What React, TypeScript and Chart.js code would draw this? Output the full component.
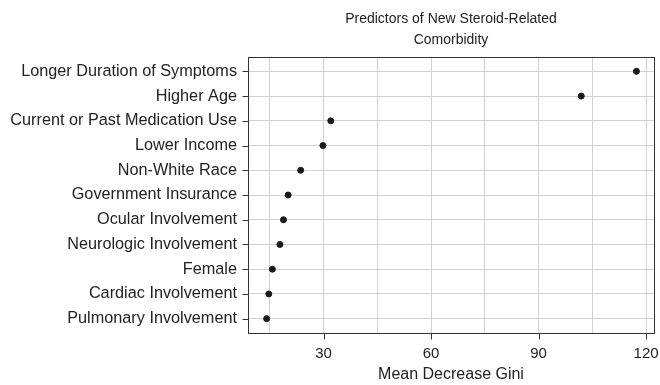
import React, { useEffect, useRef } from 'react';
import { Chart, registerables } from 'chart.js';

Chart.register(...registerables);

const predictors = [
  'Longer Duration of Symptoms',
  'Higher Age',
  'Current or Past Medication Use',
  'Lower Income',
  'Non-White Race',
  'Government Insurance',
  'Ocular Involvement',
  'Neurologic Involvement',
  'Female',
  'Cardiac Involvement',
  'Pulmonary Involvement',
];
const meanDecreaseGini = [117.3, 101.9, 32.0, 29.8, 23.6, 20.1, 18.8, 17.8, 15.7, 14.7, 14.1];
const xGridValues = [15, 30, 45, 60, 75, 90, 105, 120];
const xLabelValues = [30, 60, 90, 120];
const titleLines = ['Predictors of New Steroid-Related', 'Comorbidity'];
const xAxisTitle = 'Mean Decrease Gini';

const FONT = '"Liberation Sans", Arial, Helvetica, sans-serif';
const TICK_LEN = 6;

const framePlugin = {
  id: 'frameAndTitle',
  afterDraw(chart: any) {
    const { ctx, chartArea, scales } = chart;
    const { left, right, top, bottom } = chartArea;
    ctx.save();
    ctx.strokeStyle = '#333333';
    ctx.lineWidth = 1;
    const L = Math.round(left) + 0.5;
    const T = Math.round(top) + 0.5;
    const R = Math.round(right) + 0.5;
    const B = Math.round(bottom) + 0.5;
    ctx.strokeRect(L, T, R - L, B - T);
    // tick marks
    ctx.beginPath();
    predictors.forEach((_, i) => {
      const y = Math.round(scales.y.getPixelForValue(i)) + 0.5;
      ctx.moveTo(L - TICK_LEN, y);
      ctx.lineTo(L, y);
    });
    xLabelValues.forEach((v) => {
      const x = Math.round(scales.x.getPixelForValue(v)) + 0.5;
      ctx.moveTo(x, B);
      ctx.lineTo(x, B + TICK_LEN);
    });
    ctx.stroke();
    // title
    ctx.fillStyle = '#222222';
    ctx.font = `14px ${FONT}`;
    ctx.textAlign = 'center';
    ctx.textBaseline = 'middle';
    const cx = (left + right) / 2;
    titleLines.forEach((line, i) => {
      ctx.fillText(line, cx, 19 + i * 21.5);
    });
    ctx.restore();
  },
};

export default function App() {
  const canvasRef = useRef<HTMLCanvasElement | null>(null);

  useEffect(() => {
    if (!canvasRef.current) return;
    const chart = new Chart(canvasRef.current, {
      type: 'scatter',
      data: {
        datasets: [
          {
            data: meanDecreaseGini.map((v, i) => ({ x: v, y: i })),
            backgroundColor: '#1a1a1a',
            borderColor: '#1a1a1a',
            pointRadius: 3,
            pointHoverRadius: 3,
          },
        ],
      },
      options: {
        responsive: false,
        animation: false,
        layout: { padding: { top: 57, right: 6, left: 0, bottom: 0 } },
        plugins: {
          legend: { display: false },
          tooltip: { enabled: false },
          title: { display: false },
        },
        scales: {
          x: {
            type: 'linear',
            min: 8.9,
            max: 122.2,
            afterBuildTicks: (scale: any) => {
              scale.ticks = xGridValues.map((v) => ({ value: v }));
            },
            afterFit: (scale: any) => {
              scale.height = 52;
              scale.paddingLeft = 0;
              scale.paddingRight = 0;
            },
            grid: {
              color: '#d2d2d2',
              lineWidth: 1,
              drawTicks: false,
            },
            border: { display: false },
            ticks: {
              color: '#222222',
              font: { family: FONT, size: 15 },
              padding: 12,
              maxRotation: 0,
              autoSkip: false,
              callback: (v: any) => (xLabelValues.includes(Number(v)) ? String(v) : ''),
            },
            title: {
              display: true,
              text: xAxisTitle,
              color: '#222222',
              font: { family: FONT, size: 16 },
              padding: { top: 2, bottom: 1 },
            },
          },
          y: {
            type: 'linear',
            reverse: true,
            min: -0.58,
            max: 10.58,
            afterBuildTicks: (scale: any) => {
              scale.ticks = predictors.map((_, i) => ({ value: i }));
            },
            afterFit: (scale: any) => {
              scale.width = 248;
              scale.paddingTop = 0;
              scale.paddingBottom = 0;
            },
            grid: {
              color: '#d2d2d2',
              lineWidth: 1,
              drawTicks: false,
            },
            border: { display: false },
            ticks: {
              color: '#222222',
              font: { family: FONT, size: 16.25 },
              padding: 11,
              autoSkip: false,
              callback: (v: any) => predictors[Number(v)] ?? '',
            },
          },
        },
      },
      plugins: [framePlugin],
    });
    return () => chart.destroy();
  }, []);

  return (
    <div style={{ position: 'fixed', left: 0, top: 0, width: 660, height: 385, background: '#fff' }}>
      <canvas ref={canvasRef} width={660} height={385} />
    </div>
  );
}
